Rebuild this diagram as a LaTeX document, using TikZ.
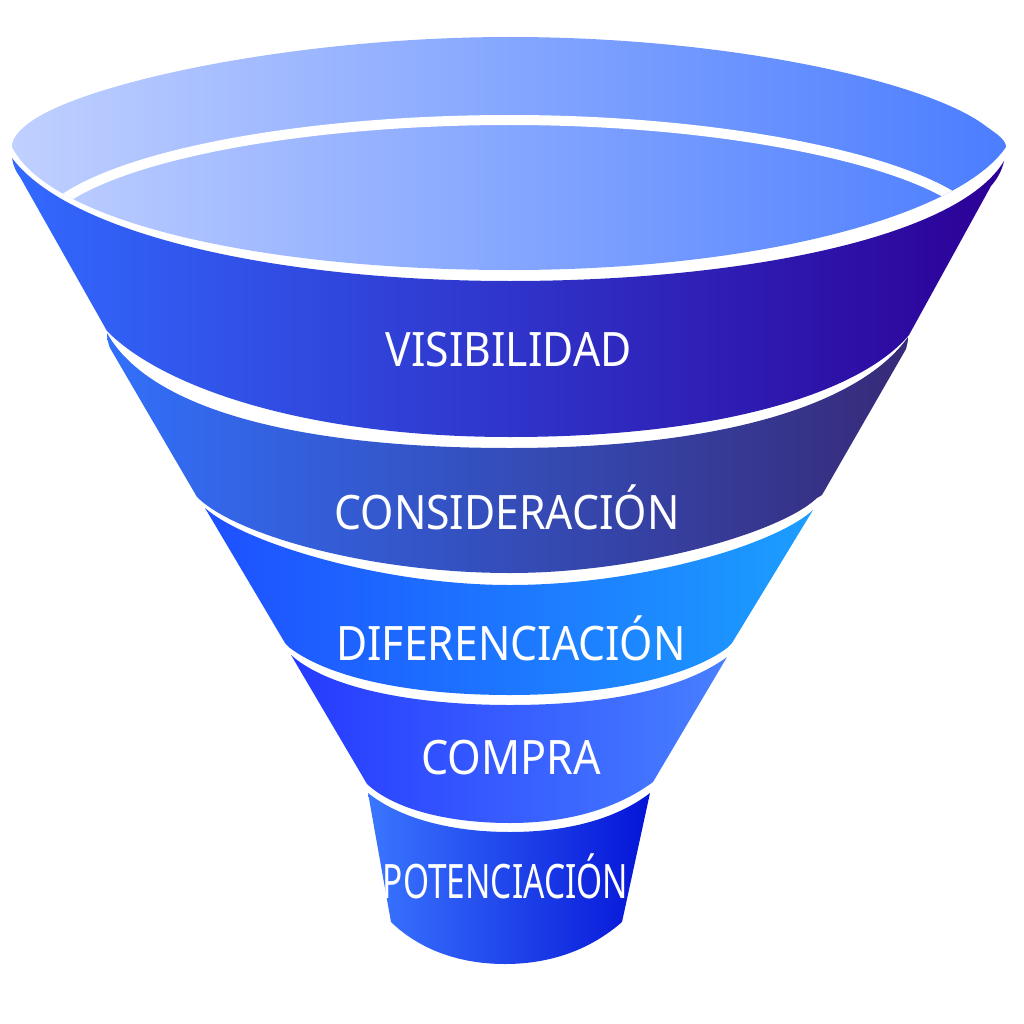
\documentclass[tikz,border=0pt]{standalone}
\usepackage{fontspec}
\setmainfont{Noto Sans}
\definecolor{topL}{RGB}{192,208,255}
\definecolor{topR}{RGB}{75,125,255}
\definecolor{aL}{RGB}{50,105,255}
\definecolor{aR}{RGB}{45,0,150}
\definecolor{bL}{RGB}{50,112,250}
\definecolor{bR}{RGB}{55,42,120}
\definecolor{cL}{RGB}{30,80,255}
\definecolor{cR}{RGB}{28,158,255}
\definecolor{dL}{RGB}{38,58,255}
\definecolor{dR}{RGB}{72,128,255}
\definecolor{eL}{RGB}{58,118,255}
\definecolor{eR}{RGB}{5,20,215}
\tikzset{
  band/.style n args={2}{left color=#1,right color=#2,draw=none},
  funnellabel/.style={text=white,inner sep=0pt,anchor=base,font=\fontsize{27}{27}\selectfont,transform shape}
}
\newcommand{\toppath}{(12,147) .. controls (12,139) and (18,132) .. (24,127) .. controls (70,85) and (290,37) .. (510,37)
  .. controls (730,37) and (930,82) .. (987,127) .. controls (997,134) and (1006,140) .. (1006,147)
  .. controls (960,215) and (760,270) .. (510,270)
  .. controls (260,270) and (50,222) .. (12,147) -- cycle}
\begin{document}
\begin{tikzpicture}[x=0.02cm,y=-0.02cm]
\useasboundingbox (0,0) rectangle (1024,1024);
% top light surface
\path[band={topL}{topR}] \toppath;
\begin{scope}
\clip \toppath;
\draw[white,line width=0.2cm] (55,205) -- (67,197) .. controls (140,150) and (320,120) .. (510,120)
  .. controls (700,120) and (880,152) .. (953,197) -- (965,205);
\end{scope}
% band 1
\path[band={aL}{aR}]
  (12,158) .. controls (70,235) and (280,281) .. (510,281)
  .. controls (740,281) and (958,238) .. (1004,161)
  .. controls (1002,170) and (998,178) .. (991,186)
  -- (909,335)
  .. controls (860,393) and (720,437) .. (510,437)
  .. controls (300,437) and (160,385) .. (107,331)
  -- (20,177) .. controls (16,172) and (13,165) .. (12,158) -- cycle;
% band 2
\path[band={bL}{bR}]
  (107,333) .. controls (150,410) and (300,448) .. (510,448)
  .. controls (720,448) and (860,405) .. (908,337)
  .. controls (908,342) and (907,345) .. (906,349)
  -- (822,495) -- (817,498)
  .. controls (780,533) and (640,573) .. (510,573)
  .. controls (370,573) and (235,535) .. (197,497)
  -- (110,348) .. controls (108,343) and (107,338) .. (107,333) -- cycle;
% band 3
\path[band={cL}{cR}]
  (205,508) .. controls (243,542) and (380,585) .. (510,585)
  .. controls (640,585) and (775,545) .. (813,510)
  -- (732,643) -- (727,648)
  .. controls (690,676) and (610,695) .. (510,695)
  .. controls (410,695) and (330,678) .. (290,648)
  -- (285,643) -- cycle;
% band 4
\path[band={dL}{dR}]
  (291,655) .. controls (330,690) and (420,705) .. (510,705)
  .. controls (610,705) and (685,688) .. (727,657)
  -- (653,782)
  .. controls (615,810) and (565,823) .. (510,823)
  .. controls (450,823) and (395,810) .. (367,784)
  -- cycle;
% band 5
\path[band={eL}{eR}]
  (368,793) .. controls (402,820) and (455,832) .. (510,832)
  .. controls (565,832) and (615,820) .. (650,793)
  -- (622,922)
  .. controls (590,950) and (550,964) .. (505,964)
  .. controls (460,964) and (420,950) .. (391,922)
  -- cycle;
\node[funnellabel,xscale=0.90] (l1) at (508.5,366) {VISIBILIDAD};
\node[funnellabel,xscale=0.90] (l2) at (507,529) {CONSIDERACIÓN};
\node[funnellabel,xscale=0.90] (l3) at (511,660) {DIFERENCIACIÓN};
\node[funnellabel,xscale=0.91] (l4) at (511,774) {COMPRA};
\node[funnellabel,xscale=0.705] (l5) at (505.5,898) {POTENCIACIÓN};
\end{tikzpicture}
\end{document}
